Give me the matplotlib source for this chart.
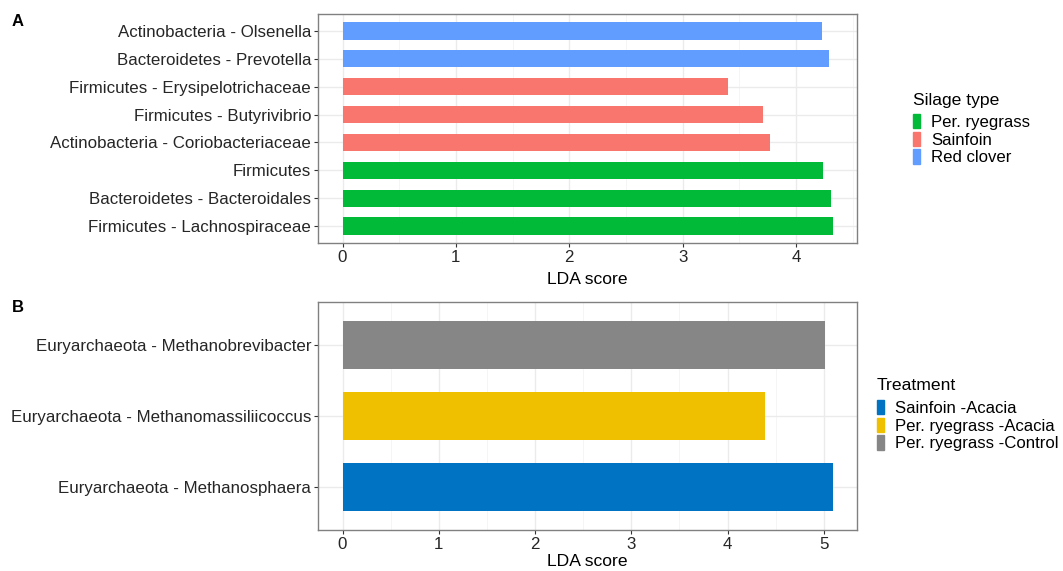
import matplotlib
matplotlib.use("Agg")
import matplotlib.pyplot as plt
from matplotlib.patches import Patch

plt.rcParams['font.family'] = ['Liberation Sans', 'DejaVu Sans']

# panel A data (bottom to top)
taxa_a = ["Firmicutes - Lachnospiraceae", "Bacteroidetes - Bacteroidales", "Firmicutes",
          "Actinobacteria - Coriobacteriaceae", "Firmicutes - Butyrivibrio",
          "Firmicutes - Erysipelotrichaceae", "Bacteroidetes - Prevotella",
          "Actinobacteria - Olsenella"]
lda_a = [4.32, 4.31, 4.24, 3.77, 3.71, 3.40, 4.29, 4.23]
silage_a = ["Per. ryegrass", "Per. ryegrass", "Per. ryegrass", "Sainfoin", "Sainfoin",
            "Sainfoin", "Red clover", "Red clover"]
silage_levels = ["Per. ryegrass", "Sainfoin", "Red clover"]
silage_colors = {"Per. ryegrass": "#00BA38", "Sainfoin": "#F8766D", "Red clover": "#619CFF"}

# panel B data (bottom to top)
taxa_b = ["Euryarchaeota - Methanosphaera", "Euryarchaeota - Methanomassiliicoccus",
          "Euryarchaeota - Methanobrevibacter"]
lda_b = [5.09, 4.39, 5.01]
treat_b = ["Sainfoin -Acacia", "Per. ryegrass -Acacia", "Per. ryegrass -Control"]
treat_levels = ["Sainfoin -Acacia", "Per. ryegrass -Acacia", "Per. ryegrass -Control"]
treat_colors = {"Sainfoin -Acacia": "#0073C2", "Per. ryegrass -Acacia": "#EFC000",
                "Per. ryegrass -Control": "#868686"}

W, H = 1063, 571
fig = plt.figure(figsize=(W / 100, H / 100), dpi=100)


def px_axes(left, top, right, bottom):
    return fig.add_axes([left / W, 1 - bottom / H, (right - left) / W, (bottom - top) / H])


def style_axes(ax, xmax, ticks, ncat, labelpad):
    ax.set_xticks(ticks)
    ax.set_xticks([t + 0.5 for t in ticks if t + 0.5 < 1.05 * xmax], minor=True)
    ax.set_xlim(-0.05 * xmax, 1.05 * xmax)
    ax.set_ylim(0.4, ncat + 0.6)
    ax.grid(True, which='major', color='#EBEBEB', lw=1.0, zorder=0)
    ax.grid(True, which='minor', axis='x', color='#F4F4F4', lw=0.6, zorder=0)
    ax.set_axisbelow(True)
    for s in ax.spines.values():
        s.set_color('#808080')
        s.set_linewidth(1.0)
    ax.tick_params(axis='both', which='major', length=3, color='#333333',
                   labelsize=12.2, labelcolor='#262626', pad=2)
    ax.tick_params(axis='both', which='minor', length=0)
    ax.set_xlabel("LDA score", fontsize=12.6, color='black', labelpad=labelpad)


def add_legend(title, levels, colors, x, y):
    fig.text(x / W, 1 - y / H, title, fontsize=12.6, va='center', ha='left')
    handles = [Patch(color=colors[k]) for k in levels]
    fig.legend(handles, levels, loc='upper left', bbox_to_anchor=(x / W, 1 - (y + 14) / H),
               frameon=False, fontsize=12.1, handlelength=0.42, handleheight=0.95,
               handletextpad=0.65, labelspacing=0.1, borderaxespad=0, borderpad=0)


# panel A
ax1 = px_axes(318, 14, 857, 243)
ya = list(range(1, len(taxa_a) + 1))
ax1.barh(ya, lda_a, height=0.63, color=[silage_colors[s] for s in silage_a], zorder=2)
ax1.set_yticks(ya)
ax1.set_yticklabels(taxa_a)
style_axes(ax1, max(lda_a), [0, 1, 2, 3, 4], len(taxa_a), 5)

# panel B
ax2 = px_axes(318, 302, 857, 530)
yb = list(range(1, len(taxa_b) + 1))
ax2.barh(yb, lda_b, height=0.68, color=[treat_colors[t] for t in treat_b], zorder=2)
ax2.set_yticks(yb)
ax2.set_yticklabels(taxa_b)
style_axes(ax2, max(lda_b), [0, 1, 2, 3, 4, 5], len(taxa_b), 1.5)

# legends
add_legend("Silage type", silage_levels, silage_colors, 913, 100)
add_legend("Treatment", treat_levels, treat_colors, 877, 386)

# panel tags
fig.text(12 / W, 1 - 21 / H, "A", fontsize=12, fontweight='bold', va='center')
fig.text(12 / W, 1 - 308 / H, "B", fontsize=12, fontweight='bold', va='center')

fig.savefig("out.png", dpi=100)
